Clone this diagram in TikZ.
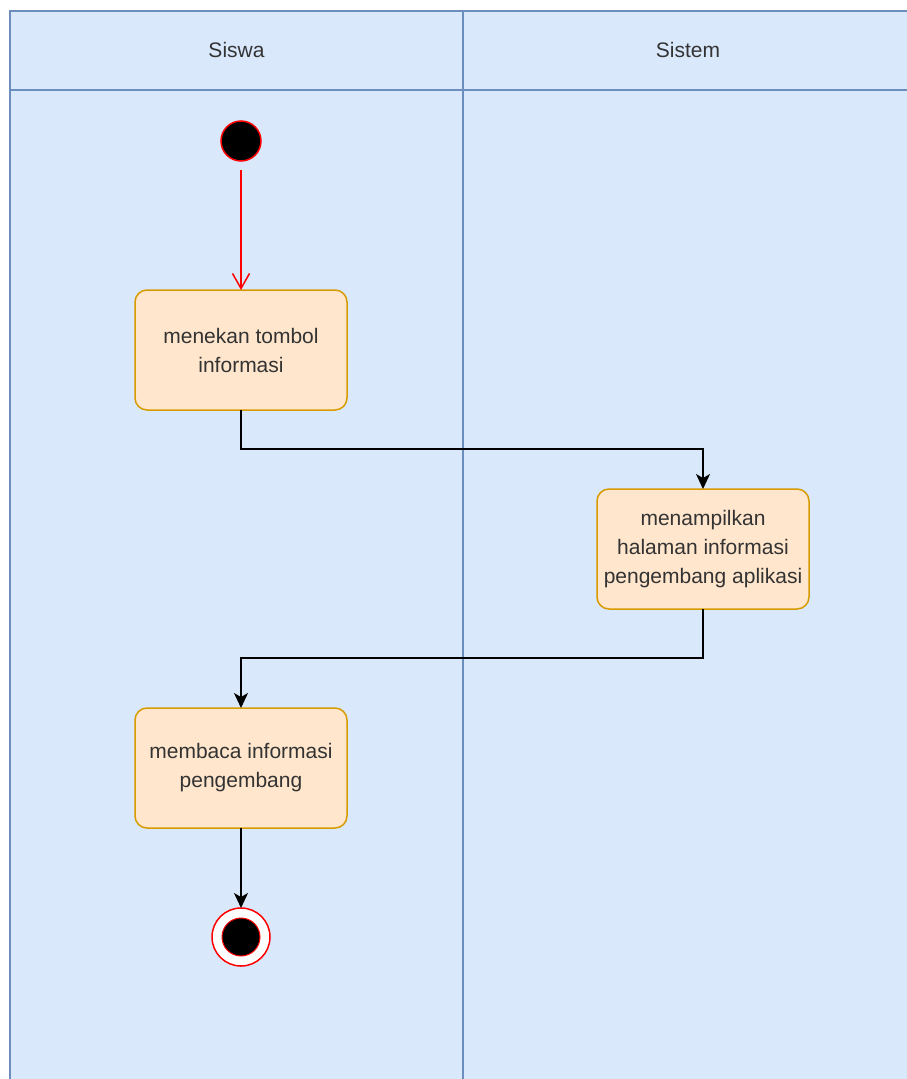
\documentclass[tikz,border=0pt]{standalone}
\usepackage{fontspec}
\setmainfont{Liberation Sans}
\usetikzlibrary{arrows.meta,positioning}
\definecolor{lanefill}{HTML}{DAE8FC}
\definecolor{laneline}{HTML}{6C8EBF}
\definecolor{actfill}{HTML}{FFE6CC}
\definecolor{actline}{HTML}{D79B00}
\definecolor{txt}{HTML}{333333}
\tikzset{
  activity/.style={draw=actline, line width=1.5pt, rounded corners=12pt, fill=actfill, minimum width=212pt, minimum height=120pt, align=center, text=txt, font=\fontsize{21}{29}\selectfont, inner sep=0pt, outer sep=0pt},
  startnode/.style={circle, draw=red, fill=black, line width=1.5pt, minimum size=40pt, inner sep=0pt, outer sep=0pt},
  endnode/.style={circle, draw=red, fill=white, line width=1.5pt, minimum size=58pt, inner sep=0pt, outer sep=0pt},
  lanetitle/.style={text=txt, font=\fontsize{21}{29}\selectfont},
  flow/.style={-{Stealth[length=15pt, width=14pt, inset=4pt]}, line width=1.5pt, draw=black},
  startflow/.style={-{Straight Barb[length=15pt, width=17pt]}, line width=1.5pt, draw=red, shorten <=9pt}
}

\begin{document}
\begin{tikzpicture}[x=1pt, y=-1pt, node distance=80pt and 250pt]
  \useasboundingbox (0,0) rectangle (907,1079);
  \clip (0,0) rectangle (907,1079);

  % swimlanes
  \draw[laneline, fill=lanefill, line width=1.5pt] (10,11) rectangle (930,1100);
  \draw[laneline, line width=1.5pt] (10,90) -- (930,90);
  \draw[laneline, line width=1.5pt] (463,11) -- (463,1100);
  \node[lanetitle] (siswa) at (236.5,50) {Siswa};
  \node[lanetitle] (sistem) at (688,50) {Sistem};

  % activities
  \node[startnode] (start) at (241,141) {};
  \node[activity, below=129pt of start] (tekan) {menekan tombol\\informasi};
  \node[activity, below right=79pt and 250pt of tekan] (tampil) {menampilkan\\halaman informasi\\pengembang aplikasi};
  \node[activity, below left=99pt and 250pt of tampil] (baca) {membaca informasi\\pengembang};
  \node[endnode, below=80pt of baca] (finish) {};
  \node[circle, fill=black, draw=red, line width=1pt, minimum size=38pt, inner sep=0pt] (finishdot) at (finish) {};

  \draw[startflow] (start) -- (tekan);
  \draw[flow] (tekan.south) |- ++(0,39) -| (tampil.north);
  \draw[flow] (tampil.south) |- ++(0,49) -| (baca.north);
  \draw[flow] (baca) -- (finish);
\end{tikzpicture}
\end{document}
